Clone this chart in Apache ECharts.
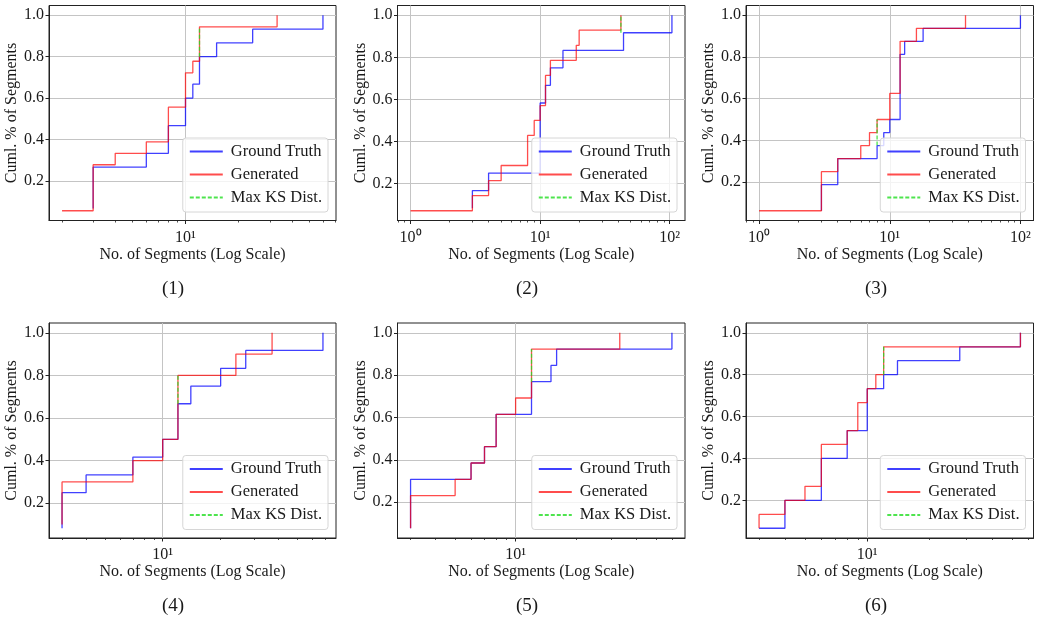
<!DOCTYPE html>
<html><head><meta charset="utf-8">
<script src="https://cdn.jsdelivr.net/npm/echarts@6/dist/echarts.min.js"></script>
<style>html,body{margin:0;padding:0;background:#fff}#c{width:1043px;height:625px}</style>
</head><body><div id="c"></div>
<script>
// ---- data (x = no. of segments, y = cumulative fraction) ----
const p1GtX  = [3, 3, 6, 8, 10, 11, 12, 15, 24, 60];
const p1GtY  = [0.067, 0.267, 0.333, 0.467, 0.6, 0.667, 0.8, 0.867, 0.933, 1.0];
const p1GenX = [2, 3, 4, 6, 8, 10, 11, 12, 33];
const p1GenY = [0.056, 0.278, 0.333, 0.389, 0.556, 0.722, 0.778, 0.944, 1.0];
const p1KsX  = [12, 12];
const p1KsY  = [0.8, 0.944];

const p2GtX  = [3, 3, 4, 10, 11, 12, 15, 44, 104];
const p2GtY  = [0.083, 0.167, 0.25, 0.583, 0.667, 0.75, 0.833, 0.917, 1.0];
const p2GenX = [1, 3, 4, 5, 8, 9, 10, 11, 12, 19, 20, 42];
const p2GenY = [0.071, 0.143, 0.214, 0.286, 0.429, 0.5, 0.571, 0.714, 0.786, 0.857, 0.929, 1.0];
const p2KsX  = [42, 42];
const p2KsY  = [0.917, 1.0];

const p3GtX  = [3, 3, 4, 8, 9, 10, 12, 13, 18, 100];
const p3GtY  = [0.0625, 0.1875, 0.3125, 0.375, 0.4375, 0.5, 0.8125, 0.875, 0.9375, 1.0];
const p3GenX = [1, 3, 4, 6, 7, 8, 10, 12, 16, 38];
const p3GenY = [0.0625, 0.25, 0.3125, 0.375, 0.4375, 0.5, 0.625, 0.875, 0.9375, 1.0];
const p3KsX  = [8, 8];
const p3KsY  = [0.375, 0.5];

const p4GtX  = [3, 3, 4, 7, 10, 12, 14, 20, 27, 68];
const p4GtY  = [0.083, 0.25, 0.333, 0.417, 0.5, 0.667, 0.75, 0.833, 0.917, 1.0];
const p4GenX = [3, 3, 7, 10, 12, 24, 37];
const p4GenY = [0.1, 0.3, 0.4, 0.5, 0.8, 0.9, 1.0];
const p4KsX  = [12, 12];
const p4KsY  = [0.667, 0.8];

const p5GtX  = [3, 3, 6, 7, 8, 12, 15, 16, 60];
const p5GtY  = [0.077, 0.308, 0.385, 0.462, 0.615, 0.769, 0.846, 0.923, 1.0];
const p5GenX = [3, 3, 5, 6, 7, 8, 10, 12, 33];
const p5GenY = [0.077, 0.231, 0.308, 0.385, 0.462, 0.615, 0.692, 0.923, 1.0];
const p5KsX  = [12, 12];
const p5KsY  = [0.769, 0.923];

const p6GtX  = [3, 4, 6, 8, 10, 12, 14, 28, 55];
const p6GtY  = [0.067, 0.2, 0.4, 0.533, 0.733, 0.8, 0.867, 0.933, 1.0];
const p6GenX = [3, 3, 4, 5, 6, 8, 9, 10, 11, 12, 55];
const p6GenY = [0.067, 0.133, 0.2, 0.267, 0.467, 0.533, 0.667, 0.733, 0.8, 0.933, 1.0];
const p6KsX  = [12, 12];
const p6KsY  = [0.8, 0.933];

const captions = ['(1)', '(2)', '(3)', '(4)', '(5)', '(6)'];
const seriesNames = ['Ground Truth', 'Generated', 'Max KS Dist.'];
const xAxisName = 'No. of Segments (Log Scale)';
const yAxisName = 'Cuml. % of Segments';
const majorTicks = [1, 10, 100];
const minorTicks = [0.8, 0.9, 2, 3, 4, 5, 6, 7, 8, 9, 20, 30, 40, 50, 60, 70, 80, 90];
const yTicks = [0.2, 0.4, 0.6, 0.8, 1.0];

// ---- assembly ----
const panels = [
  [p1GtX, p1GtY, p1GenX, p1GenY, p1KsX, p1KsY],
  [p2GtX, p2GtY, p2GenX, p2GenY, p2KsX, p2KsY],
  [p3GtX, p3GtY, p3GenX, p3GenY, p3KsX, p3KsY],
  [p4GtX, p4GtY, p4GenX, p4GenY, p4KsX, p4KsY],
  [p5GtX, p5GtY, p5GenX, p5GenY, p5KsX, p5KsY],
  [p6GtX, p6GtY, p6GenX, p6GenY, p6KsX, p6KsY]
];
const colLeft = [49, 397.5, 746];
const colWidth = [287, 287.5, 287.5];
const rowTop = [5.5, 323];
const plotH = 215;
const capX = [174, 528, 877];
const capY = [291, 608];

const FONT = 'Liberation Serif';
const TXT = '#1a1a1a';
const sup = {'0': '\u2070', '1': '\u00b9', '2': '\u00b2'};
const pairs = (xs, ys) => xs.map((v, i) => [v, ys[i]]);

const grids = [], xAxes = [], yAxes = [], series = [], legends = [], graphics = [];

panels.forEach((p, i) => {
  const c = i % 3, r = Math.floor(i / 3);
  const [gx, gy, rx, ry, kx, ky] = p;
  const left = colLeft[c], top = rowTop[r], w = colWidth[c];
  grids.push({left: left, top: top, width: w, height: plotH, show: true,
              borderColor: '#222', borderWidth: 1, backgroundColor: 'transparent'});
  const allX = gx.concat(rx);
  const lo = Math.min(...allX), hi = Math.max(...allX);
  const L = Math.log10(hi / lo);
  const xmin = lo * Math.pow(10, -0.05 * L), xmax = hi * Math.pow(10, 0.05 * L);
  const yLo = Math.min(...gy, ...ry);
  const ymin = yLo - 0.05 * (1 - yLo), ymax = 1 + 0.05 * (1 - yLo);

  xAxes.push({
    type: 'log', logBase: 10, gridIndex: i, min: xmin, max: xmax, position: 'bottom',
    name: xAxisName, nameLocation: 'middle', nameGap: 21,
    nameTextStyle: {fontFamily: FONT, fontSize: 16, color: TXT},
    axisLine: {show: true, lineStyle: {color: '#222', width: 1}},
    axisTick: {show: true, inside: false, length: 3.5, customValues: majorTicks,
               lineStyle: {color: '#222', width: 1}},
    axisLabel: {show: true, customValues: majorTicks, margin: 9,
                fontFamily: FONT, fontSize: 16, color: TXT,
                formatter: v => '10' + sup[String(Math.round(Math.log10(v)))]},
    splitLine: {show: true, lineStyle: {color: '#c4c4c4', width: 1}},
    minorTick: {show: false}, minorSplitLine: {show: false}
  });
  xAxes.push({
    type: 'log', logBase: 10, gridIndex: i, min: xmin, max: xmax, position: 'bottom',
    axisLine: {show: false},
    axisTick: {show: true, inside: false, length: 2, customValues: minorTicks,
               lineStyle: {color: '#222', width: 0.8}},
    axisLabel: {show: false}, splitLine: {show: false}
  });
  yAxes.push({
    type: 'value', gridIndex: i, min: ymin, max: ymax,
    name: yAxisName, nameLocation: 'middle', nameGap: 23,
    nameTextStyle: {fontFamily: FONT, fontSize: 16, color: TXT},
    axisLine: {show: true, lineStyle: {color: '#222', width: 1}},
    axisTick: {show: true, inside: false, length: 3.5, customValues: yTicks,
               lineStyle: {color: '#222', width: 1}},
    axisLabel: {show: true, customValues: yTicks, margin: 5,
                fontFamily: FONT, fontSize: 16, color: TXT,
                formatter: v => v.toFixed(1)},
    splitLine: {show: true, lineStyle: {color: '#c4c4c4', width: 1}}
  });
  const base = {type: 'line', xAxisIndex: 2 * i, yAxisIndex: i, step: 'end',
                symbol: 'none', showSymbol: false, silent: true, animation: false};
  series.push(Object.assign({}, base, {name: seriesNames[0], data: pairs(gx, gy), z: 2,
    itemStyle: {color: '#0000ff'}, lineStyle: {color: '#0000ff', width: 1.3, opacity: 0.75}}));
  series.push(Object.assign({}, base, {name: seriesNames[1], data: pairs(rx, ry), z: 3,
    itemStyle: {color: '#ff0000'}, lineStyle: {color: '#ff0000', width: 1.3, opacity: 0.7}}));
  series.push(Object.assign({}, base, {name: seriesNames[2], data: pairs(kx, ky), z: 4,
    itemStyle: {color: '#22dd22'}, lineStyle: {color: '#22dd22', width: 1.3, opacity: 0.8, type: [4, 2]}}));

  const gRight = left + w, gBottom = top + plotH;
  legends.push({
    data: seriesNames, orient: 'vertical',
    right: 1043 - (gRight - 8), bottom: 625 - (gBottom - 8.5),
    itemWidth: 33, itemHeight: 14, itemGap: 6,
    padding: [5, 6, 6, 6],
    itemStyle: {opacity: 0, borderWidth: 0},
    backgroundColor: 'rgba(255,255,255,0.8)', borderColor: '#d6d6d6', borderWidth: 1, borderRadius: 3,
    textStyle: {fontFamily: FONT, fontSize: 16.5, color: TXT, lineHeight: 16, padding: [0, 0, 0, 3]},
    selectedMode: false
  });
  graphics.push({type: 'text', left: capX[c] - 12, top: capY[r] - 11,
    style: {text: captions[i], fontFamily: FONT, fontSize: 19, fill: TXT}});
});

const chart = echarts.init(document.getElementById('c'), null, {renderer: 'canvas'});
chart.setOption({
  backgroundColor: '#ffffff',
  animation: false,
  grid: grids, xAxis: xAxes, yAxis: yAxes, series: series, legend: legends, graphic: graphics
});
</script></body></html>
